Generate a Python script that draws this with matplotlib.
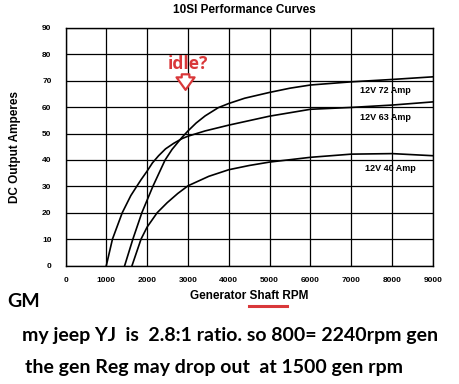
import matplotlib
matplotlib.use('Agg')
import matplotlib.pyplot as plt
from matplotlib.lines import Line2D

# values
rpm_72 = [1450, 1650, 1870, 2140, 2440, 2610, 2850, 3000, 3200, 3420, 3740,
          4000, 4390, 5000, 5500, 6000, 7000, 8000, 9000]
amp_72 = [0, 10, 20, 30, 40, 44, 48.5, 51, 54, 56.7, 59.8,
          61.4, 63.4, 65.6, 67.2, 68.4, 69.6, 70.5, 71.5]

rpm_63 = [1000, 1150, 1390, 1600, 1745, 1850, 2000, 2130, 2280, 2450, 2650, 2855, 3000,
          3420, 4000, 5000, 6000, 7000, 8000, 9000]
amp_63 = [0, 10, 20, 26.5, 30, 32.5, 35.8, 38.9, 41.6, 44.2, 46.3, 48.1, 49,
          51, 53.2, 56.6, 59.2, 59.9, 60.8, 62]

rpm_40 = [1630, 1740, 1850, 2000, 2245, 2490, 2750, 3000, 3510, 4000, 4500, 5000,
          6000, 7000, 8000, 9000]
amp_40 = [0, 5, 10, 14.6, 20, 23.8, 27.3, 30.2, 33.8, 36.3, 37.9, 39.2,
          41, 42.2, 42.4, 41.6]

curve_labels = ['12V 72 Amp', '12V 63 Amp', '12V 40 Amp']
label_pos = [(7220, 66.5), (7220, 55.9), (7340, 36.6)]

xticks = list(range(0, 9001, 1000))
yticks = list(range(0, 91, 10))

W, H = 460, 384
fig = plt.figure(figsize=(W / 100, H / 100), dpi=100)
ax = fig.add_axes([65.5 / W, 1 - 265.5 / H, (433 - 65.5) / W, (265.5 - 28) / H])

for xs, ys in [(rpm_72, amp_72), (rpm_63, amp_63), (rpm_40, amp_40)]:
    ax.plot(xs, ys, color='black', lw=1.2, solid_joinstyle='round')

for txt, (x, y) in zip(curve_labels, label_pos):
    ax.text(x, y, txt, fontsize=6.5, fontweight='bold', family='Liberation Sans',
            ha='left', va='center')

ax.set_xlim(0, 9000)
ax.set_ylim(0, 90)
ax.set_xticks(xticks)
ax.set_yticks(yticks)
ax.grid(True, color='black', lw=0.9)
ax.tick_params(length=0, labelsize=6, pad=8)
ax.tick_params(axis='y', pad=10)
for lab in ax.get_xticklabels() + ax.get_yticklabels():
    lab.set_fontweight('bold')
    lab.set_family('Liberation Sans')
for s in ax.spines.values():
    s.set_linewidth(1.0)

# red idle marker
red = '#d9383a'
ax.text(3000, 76.5, 'idle?', color=red, fontsize=12.5, fontweight='bold',
        family='Open Sans', ha='center', va='center')
ax.annotate('', xy=(2940, 65.5), xytext=(2940, 73.5),
            arrowprops=dict(arrowstyle='simple,head_width=1.3,head_length=0.9,tail_width=0.55',
                            fc='white', ec=red, lw=1.6))

fig.text(244 / W, 1 - 10 / H, '10SI Performance Curves', fontsize=8.5, fontweight='bold',
         family='Liberation Sans', ha='center', va='center')
fig.text(15 / W, 1 - 146.5 / H, 'DC Output Amperes', fontsize=8.5, fontweight='bold',
         family='Liberation Sans', rotation=90, ha='center', va='center')
fig.text(249.5 / W, 1 - 295.7 / H, 'Generator Shaft RPM', fontsize=8.5, fontweight='bold',
         family='Liberation Sans', ha='center', va='center')
fig.add_artist(Line2D([249 / W, 287 / W], [1 - 306 / H, 1 - 306 / H], color=red, lw=2.2))

fig.text(7 / W, 1 - 301.7 / H, 'GM', fontsize=14, fontweight='bold',
         family='Lato', ha='left', va='center')
fig.text(22 / W, 1 - 335 / H, 'my jeep YJ  is  2.8:1 ratio. so 800= 2240rpm gen', fontsize=14,
         fontweight='bold', family='Lato', ha='left', va='center')
fig.text(25 / W, 1 - 368 / H, 'the gen Reg may drop out  at 1500 gen rpm', fontsize=14,
         fontweight='bold', family='Lato', ha='left', va='center')

fig.savefig('out.png', dpi=100)
